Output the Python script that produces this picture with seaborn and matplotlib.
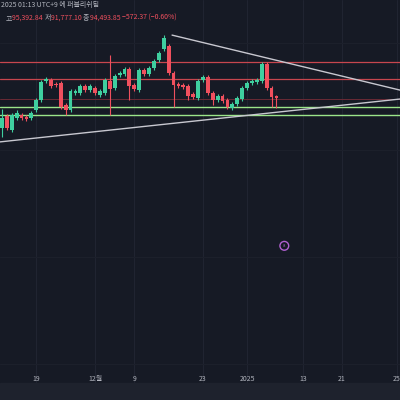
import numpy as np
import pandas as pd
import seaborn as sns
import matplotlib.pyplot as plt

# daily candles in thousands of USD (day 0 = Nov 12 2024)
opens  = [86.1, 89.5, 85.5, 88.9, 89.7, 89.2, 88.9, 91.1, 93.9, 99.2, 99.5, 98.4,
          98.7, 92.5, 91.1, 95.9, 95.9, 97.9, 96.7, 97.3, 95.3, 95.9, 99.2, 97.3,
          100.9, 101.2, 102.6, 98.1, 96.7, 102.3, 101.2, 102.9, 105.1, 108.2, 109.0, 101.5,
          98.4, 98.1, 97.9, 95.6, 94.5, 99.5, 100.4, 95.9, 93.9, 95.0, 93.9, 91.7,
          92.8, 94.2, 97.3, 98.7, 98.9, 99.2, 104.0, 97.3, 95.1]
closes = [88.9, 86.1, 89.7, 90.3, 88.9, 88.6, 90.3, 93.9, 99.0, 99.8, 97.9, 98.1,
          92.0, 91.1, 96.5, 96.5, 97.9, 96.7, 97.9, 95.9, 96.5, 99.5, 97.0, 100.7,
          101.5, 102.6, 97.9, 97.0, 102.3, 101.2, 102.9, 104.9, 107.1, 111.3, 101.5, 98.1,
          97.9, 97.6, 95.0, 94.8, 99.2, 100.4, 95.9, 93.9, 95.0, 93.7, 92.0, 92.8,
          94.5, 97.3, 98.7, 99.2, 99.4, 104.0, 97.3, 94.8, 94.5]
highs  = [91.5, 90.1, 90.3, 91.0, 90.3, 89.8, 90.9, 94.5, 99.6, 100.4, 100.1, 99.0,
          99.3, 93.1, 97.1, 97.1, 98.5, 98.5, 98.5, 97.9, 97.1, 100.1, 106.5, 101.3,
          102.1, 103.2, 103.2, 98.7, 102.9, 102.9, 103.5, 105.5, 107.7, 112.0, 109.6, 102.1,
          99.0, 98.7, 98.5, 96.2, 99.8, 101.0, 101.0, 96.5, 95.6, 95.6, 94.5, 93.4,
          95.1, 97.9, 99.3, 99.8, 100.0, 104.6, 104.6, 97.9, 95.4]
lows   = [83.5, 85.5, 84.9, 88.3, 88.3, 88.0, 88.3, 90.5, 93.3, 98.6, 97.3, 97.5,
          91.4, 89.7, 90.5, 95.3, 95.3, 96.1, 96.1, 95.3, 94.7, 95.3, 89.7, 96.7,
          100.3, 100.6, 93.9, 96.4, 96.1, 100.6, 100.6, 102.3, 104.5, 107.6, 100.9, 92.0,
          97.3, 97.0, 93.9, 94.2, 93.9, 98.9, 95.3, 92.5, 93.3, 93.1, 91.4, 91.1,
          92.2, 93.6, 96.7, 98.1, 98.3, 98.6, 96.7, 91.9, 91.8]
days = np.arange(len(opens))

hlines_red = [104.6, 99.8, 94.2]
hlines_green = [92.0, 89.7]
upper_trend = ([34.7, 81.2], [112.1, 96.7])
lower_trend = ([-0.4, 81.2], [82.2, 94.2])
tick_days = [7, 19, 27, 41, 50, 61.4, 69.3, 80.6]
tick_labels = ["19", "12월", "9", "23", "2025", "13", "21", "25"]

df = pd.DataFrame({"day": days, "open": opens, "close": closes, "high": highs, "low": lows})
df["up"] = df["close"] >= df["open"]

bg = "#161a25"
green = "#3fcf9f"
red = "#f0505e"

sns.set_theme(style="dark", rc={"axes.facecolor": bg, "figure.facecolor": bg})
plt.rcParams["font.family"] = ["Noto Sans CJK KR", "DejaVu Sans"]

fig = plt.figure(figsize=(4, 4), dpi=100)
ax = fig.add_axes([0, 0, 1, 1])
ax.set_xlim(-0.4, 81.2)
ax.set_ylim(9.93, 121.93)
ax.axis("off")

# bottom band
fig.patches.append(plt.Rectangle((0, 0), 1, 17 / 400, transform=fig.transFigure, color="#1e222d", zorder=0))

for d in tick_days:
    ax.axvline(d, color="#202431", lw=0.8, zorder=1)
for y in [110, 80, 50, 20]:
    ax.axhline(y, color="#1c202b", lw=0.8, zorder=1)

for y in hlines_red[:2]:
    ax.axhline(y, color="#c8464e", lw=0.9, zorder=2)
ax.axhline(hlines_red[2], color="#6a2a35", lw=0.7, zorder=2)
for y in hlines_green:
    ax.axhline(y, color="#9be58a", lw=1.0, zorder=2)

sns.lineplot(x=upper_trend[0], y=upper_trend[1], ax=ax, color="#c8c8d0", lw=1.0, zorder=3)
sns.lineplot(x=lower_trend[0], y=lower_trend[1], ax=ax, color="#c8c8d0", lw=1.0, zorder=3)

colors = np.where(df["up"], green, red)
ax.vlines(df["day"], df["low"], df["high"], colors=colors, lw=0.8, zorder=4)
bottoms = np.minimum(df["open"], df["close"])
heights = np.maximum(np.abs(df["close"] - df["open"]), 0.15)
ax.bar(df["day"], heights, bottom=bottoms, width=0.78, color=colors, edgecolor=colors,
       linewidth=0, zorder=5)

ax.scatter([57.6], [53.1], s=40, facecolors="none", edgecolors="#b060d0", lw=1, zorder=6)
ax.text(57.6, 53.1, "8", color="#b060d0", fontsize=3, ha="center", va="center", zorder=6)

for d, lab in zip(tick_days, tick_labels):
    ax.text(d, 0.053, lab, transform=ax.get_xaxis_transform(), color="#b2b5be",
            fontsize=5, ha="center", va="center")

fig.text(0.003, 0.988, "2025 01:13 UTC+9 에 퍼블리쉬됨", color="#b2b5be", fontsize=5, va="center")
parts = [("고", "#b2b5be"), ("95,392.84 ", red), ("저", "#b2b5be"), ("91,777.10 ", red),
         ("종", "#b2b5be"), ("94,493.85 ", red), ("−572.37 (−0.60%)", red)]
x = 0.015
for s, c in parts:
    t = fig.text(x, 0.955, s, color=c, fontsize=5, va="center")
    fig.canvas.draw()
    bb = t.get_window_extent()
    x += bb.width / 400

fig.savefig("out.png", dpi=100, facecolor=bg)
